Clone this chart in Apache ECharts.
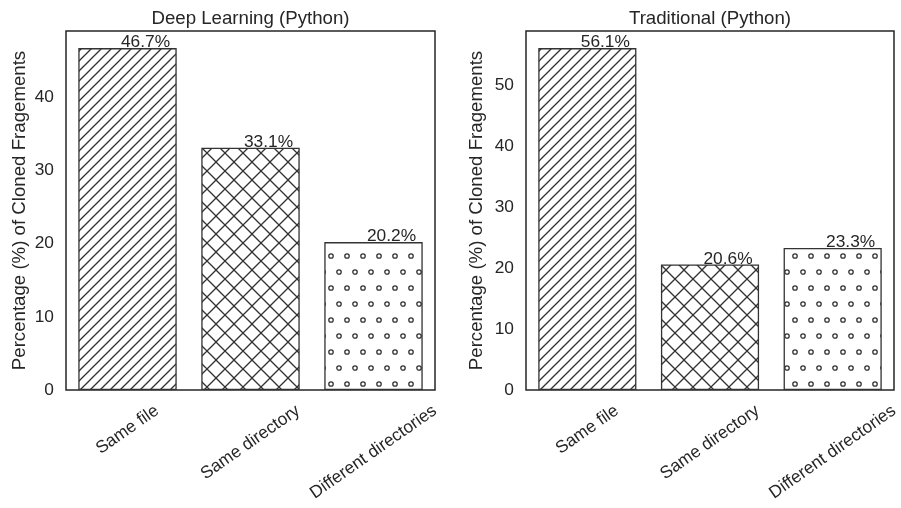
<!DOCTYPE html>
<html><head><meta charset="utf-8">
<script src="https://cdn.jsdelivr.net/npm/echarts@6/dist/echarts.min.js"></script>
<style>html,body{margin:0;padding:0;background:#fff}#c{width:901px;height:508px}</style>
</head><body><div id="c"></div>
<script>
// ---- data ----
const categories = ['Same file', 'Same directory', 'Different directories'];
const dlValues = [46.7, 33.1, 20.2];
const tradValues = [56.1, 20.6, 23.3];
const dlTitle = 'Deep Learning (Python)';
const tradTitle = 'Traditional (Python)';
const yName = 'Percentage (%) of Cloned Fragements';
const yTickStep = 10;

// ---- styles ----
const FONT = "'Liberation Sans', Arial, Helvetica, sans-serif";
const TXT = '#262626';
const INK = '#333333';
const TICK_FS = 17.33;
const TITLE_FS = 18.67;
const ROT = 35;

function tile(kind) {
  const c = document.createElement('canvas');
  let w, h;
  if (kind === '/') { w = h = 10; }
  else if (kind === 'x') { w = h = 18; }
  else { w = 16; h = 32; }
  c.width = w; c.height = h;
  const g = c.getContext('2d');
  g.fillStyle = '#fff'; g.fillRect(0, 0, w, h);
  g.strokeStyle = INK; g.lineWidth = 1.3;
  if (kind === '/') {
    for (let k = -3; k <= 3; k++) {
      const x0 = k * w;
      g.beginPath(); g.moveTo(x0 - 4, w + 4); g.lineTo(x0 + w + 4, -4); g.stroke();
    }
  } else if (kind === 'x') {
    for (let k = -2; k <= 2; k++) {
      const x0 = k * w;
      g.beginPath(); g.moveTo(x0 - 4, w + 4); g.lineTo(x0 + w + 4, -4); g.stroke();
      g.beginPath(); g.moveTo(x0 - 4, -4); g.lineTo(x0 + w + 4, w + 4); g.stroke();
    }
  } else {
    const pts = [[11, 0], [3, 16]];
    for (const [px, py] of pts) {
      for (const dx of [-16, 0, 16]) for (const dy of [-32, 0, 32]) {
        g.beginPath(); g.arc(px + dx, py + dy, 2.2, 0, Math.PI * 2); g.stroke();
      }
    }
  }
  return { image: c, repeat: 'repeat' };
}
const patterns = [tile('/'), tile('x'), tile('o')];

// rotated, centred category labels (matplotlib style ha='center')
const mc = document.createElement('canvas').getContext('2d');
mc.font = TICK_FS + 'px ' + FONT;
const s = Math.sin(ROT * Math.PI / 180), co = Math.cos(ROT * Math.PI / 180);
const rich = {};
categories.forEach((cat, i) => {
  const w = mc.measureText(cat).width;
  rich['p' + i] = {
    fontSize: TICK_FS, fontFamily: FONT, color: TXT,
    padding: [w * s * co, w * s * s, 0, 0]
  };
});

function xAxisFor(gi) {
  return {
    gridIndex: gi, type: 'category', data: categories,
    axisLine: { show: false }, axisTick: { show: false }, splitLine: { show: false },
    axisLabel: {
      interval: 0, rotate: ROT, align: 'center', verticalAlign: 'middle', margin: 19,
      fontSize: TICK_FS, fontFamily: FONT, color: TXT,
      formatter: (v, i) => '{p' + i + '|' + v + '}', rich: rich
    }
  };
}
function yAxisFor(gi, vals, gap) {
  return {
    gridIndex: gi, type: 'value', min: 0, max: Math.max(...vals) * 1.05, interval: yTickStep,
    axisLine: { show: false }, axisTick: { show: false }, splitLine: { show: false },
    axisLabel: {
      margin: 12, fontSize: TICK_FS, fontFamily: FONT, color: TXT,
      formatter: v => (Math.abs(v % yTickStep) < 1e-9 ? String(v) : '')
    },
    name: yName, nameLocation: 'middle', nameGap: gap, nameMoveOverlap: false,
    nameTextStyle: { fontSize: TITLE_FS, fontFamily: FONT, color: TXT }
  };
}
function seriesFor(gi, vals) {
  return {
    type: 'bar', xAxisIndex: gi, yAxisIndex: gi, barWidth: '80%',
    data: vals.map((v, i) => ({ value: v, itemStyle: { color: patterns[i] } })),
    itemStyle: { borderColor: INK, borderWidth: 1.3 },
    label: {
      show: true, position: 'top', distance: 0, offset: [18, 3],
      formatter: '{c}%', fontSize: TICK_FS, fontFamily: FONT, color: TXT
    },
    emphasis: { disabled: true }
  };
}
function gridFor(left, width) {
  return { left: left, top: 31, width: width, height: 359, show: true,
    borderColor: TXT, borderWidth: 1.5, backgroundColor: 'transparent', containLabel: false, outerBoundsMode: 'none' };
}
const chart = echarts.init(document.getElementById('c'));
chart.setOption({
  animation: false,
  backgroundColor: '#fff',
  title: [
    { text: dlTitle, left: 250.5, top: 9.5, textAlign: 'center', padding: 0,
      textStyle: { fontSize: TITLE_FS, fontWeight: 'normal', color: TXT, fontFamily: FONT } },
    { text: tradTitle, left: 710, top: 9.5, textAlign: 'center', padding: 0,
      textStyle: { fontSize: TITLE_FS, fontWeight: 'normal', color: TXT, fontFamily: FONT } }
  ],
  grid: [gridFor(66, 369), gridFor(526, 368)],
  xAxis: [xAxisFor(0), xAxisFor(1)],
  yAxis: [yAxisFor(0, dlValues, 37), yAxisFor(1, tradValues, 39.5)],
  series: [seriesFor(0, dlValues), seriesFor(1, tradValues)]
});
</script></body></html>
